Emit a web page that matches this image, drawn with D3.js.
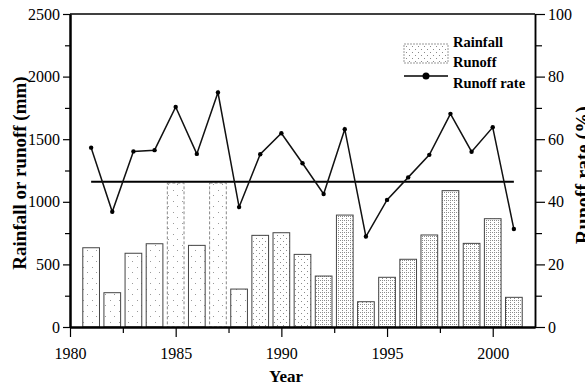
<!DOCTYPE html>
<html>
<head>
<meta charset="utf-8">
<script src="https://cdn.jsdelivr.net/npm/d3@7/dist/d3.min.js"></script>
<style>
  html, body { margin: 0; padding: 0; background: #fff; }
  svg { display: block; }
  text { font-family: "Liberation Serif", "Times New Roman", serif; fill: #000; }
</style>
</head>
<body>
<svg id="chart" width="585" height="385"></svg>
<script>
// Annual series, 1981–2001
const years = [1981, 1982, 1983, 1984, 1985, 1986, 1987, 1988, 1989, 1990, 1991,
               1992, 1993, 1994, 1995, 1996, 1997, 1998, 1999, 2000, 2001];
// Bar heights (mm)
const runoffMm = [633, 274, 589, 665, 1150, 652, 1150, 303, 732, 753, 580,
                  407, 894, 202, 397, 541, 735, 1089, 668, 865, 237];
// Runoff rate (%)
const runoffRate = [57.3, 36.8, 56.1, 56.5, 70.3, 55.3, 74.9, 38.3, 55.2, 61.9, 52.3,
                    42.5, 63.2, 28.9, 40.6, 47.8, 55.0, 68.1, 56.0, 63.8, 31.3];
// Horizontal reference level (mm) and its year span
const refLevel = 1160;
const refSpan = [1981, 2001];

const yLeftTicks = [0, 500, 1000, 1500, 2000, 2500];
const yRightTicks = [0, 20, 40, 60, 80, 100];
const xTicks = [1980, 1985, 1990, 1995, 2000];
const legendLabels = ["Rainfall", "Runoff", "Runoff rate"];

const svg = d3.select("#chart");
const L = 70, R = 535, T = 14, B = 327;

const x = d3.scaleLinear().domain([1980, 2002]).range([L, R]);
const y = d3.scaleLinear().domain([0, 2500]).range([B, T]);
const yR = d3.scaleLinear().domain([0, 100]).range([B, T]);
const fmt = d3.format("d");

// Stipple fills
const defs = svg.append("defs");
const sparse = defs.append("pattern").attr("id", "stipSparse")
  .attr("patternUnits", "userSpaceOnUse").attr("width", 9).attr("height", 11);
sparse.append("rect").attr("width", 9).attr("height", 11).attr("fill", "#fff");
[[2, 3], [6, 8]].forEach(([a, b]) =>
  sparse.append("rect").attr("x", a).attr("y", b).attr("width", 1).attr("height", 1).attr("fill", "#9a9a9a"));

const medium = defs.append("pattern").attr("id", "stipMed")
  .attr("patternUnits", "userSpaceOnUse").attr("width", 6).attr("height", 6);
medium.append("rect").attr("width", 6).attr("height", 6).attr("fill", "#fff");
[[1, 1], [4, 4]].forEach(([a, b]) =>
  medium.append("rect").attr("x", a).attr("y", b).attr("width", 1).attr("height", 1).attr("fill", "#8a8a8a"));

const dense = defs.append("pattern").attr("id", "stipDense")
  .attr("patternUnits", "userSpaceOnUse").attr("width", 4).attr("height", 4);
dense.append("rect").attr("width", 4).attr("height", 4).attr("fill", "#fff");
[[0, 0], [2, 2], [2, 0]].forEach(([a, b]) =>
  dense.append("rect").attr("x", a).attr("y", b).attr("width", 1).attr("height", 1).attr("fill", "#8c8c8c"));

function fillFor(yr) {
  if (yr >= 1992) return "url(#stipDense)";
  if (yr >= 1989) return "url(#stipMed)";
  return "url(#stipSparse)";
}

// Bars
const bw = x(1980.79) - x(1980);
svg.append("g").selectAll("rect")
  .data(years.map((yr, i) => ({ yr, v: runoffMm[i] })))
  .join("rect")
  .attr("x", d => x(d.yr) - bw / 2)
  .attr("y", d => y(d.v))
  .attr("width", bw)
  .attr("height", d => y(0) - y(d.v))
  .attr("fill", d => fillFor(d.yr))
  .attr("stroke", d => (d.yr === 1985 || d.yr === 1987) ? "#888" : "#444")
  .attr("stroke-dasharray", d => (d.yr === 1985 || d.yr === 1987) ? "3,2" : null)
  .attr("stroke-width", 1);

// Reference level line
svg.append("line")
  .attr("x1", x(refSpan[0])).attr("x2", x(refSpan[1]))
  .attr("y1", y(refLevel)).attr("y2", y(refLevel))
  .attr("stroke", "#000").attr("stroke-width", 2);

// Runoff rate line
const pts = years.map((yr, i) => [x(yr), yR(runoffRate[i])]);
svg.append("path")
  .attr("d", d3.line()(pts))
  .attr("fill", "none").attr("stroke", "#111").attr("stroke-width", 1.5);
svg.append("g").selectAll("circle").data(pts).join("circle")
  .attr("cx", d => d[0]).attr("cy", d => d[1]).attr("r", 2.2).attr("fill", "#000");

// Frame top
svg.append("line").attr("x1", L).attr("x2", R).attr("y1", T).attr("y2", T)
  .attr("stroke", "#000").attr("stroke-width", 1.5);

function styleAxis(g, w) {
  g.select(".domain").attr("stroke", "#000").attr("stroke-width", w);
  g.selectAll(".tick line").attr("stroke", "#000").attr("stroke-width", 1.2);
  g.selectAll("text").attr("font-size", 16).attr("font-family", "Liberation Serif");
}

// Left axis
const gl = svg.append("g").attr("transform", `translate(${L},0)`)
  .call(d3.axisLeft(y).tickValues(d3.range(250, 2500, 500)).tickSize(5).tickFormat("").tickSizeOuter(0));
styleAxis(gl, 2);
const gl2 = svg.append("g").attr("transform", `translate(${L},0)`)
  .call(d3.axisLeft(y).tickValues(yLeftTicks).tickSize(7).tickPadding(3).tickFormat(fmt).tickSizeOuter(0));
styleAxis(gl2, 2);

// Right axis
const gr = svg.append("g").attr("transform", `translate(${R},0)`)
  .call(d3.axisRight(yR).tickValues(d3.range(10, 100, 20)).tickSize(7).tickFormat("").tickSizeOuter(0));
styleAxis(gr, 1.5);
const gr2 = svg.append("g").attr("transform", `translate(${R},0)`)
  .call(d3.axisRight(yR).tickValues(yRightTicks).tickSize(10).tickPadding(3).tickFormat(fmt).tickSizeOuter(0));
styleAxis(gr2, 1.5);

// Bottom axis
const gb = svg.append("g").attr("transform", `translate(0,${B})`)
  .call(d3.axisBottom(x).tickValues(d3.range(1982.5, 2000, 5)).tickSize(6).tickFormat("").tickSizeOuter(0));
styleAxis(gb, 2);
const gb2 = svg.append("g").attr("transform", `translate(0,${B})`)
  .call(d3.axisBottom(x).tickValues(xTicks).tickSize(10).tickPadding(11).tickFormat(fmt).tickSizeOuter(0));
styleAxis(gb2, 2);

// Axis titles
svg.append("text").attr("x", 286).attr("y", 382).attr("text-anchor", "middle")
  .attr("font-size", 17).attr("font-weight", "bold").text("Year");
svg.append("text").attr("transform", "translate(26,173) rotate(-90)")
  .attr("text-anchor", "middle").attr("font-size", 19).attr("font-weight", "bold")
  .text("Rainfall or runoff (mm)");
svg.append("text").attr("transform", "translate(590,175) rotate(-90)")
  .attr("text-anchor", "middle").attr("font-size", 20).attr("font-weight", "bold")
  .text("Runoff rate (%)");

// Legend
const lg = svg.append("g");
lg.append("rect").attr("x", 404).attr("y", 44).attr("width", 44).attr("height", 19)
  .attr("fill", "url(#stipMed)").attr("stroke", "#999").attr("stroke-width", 1)
  .attr("stroke-dasharray", "2,1");
lg.append("line").attr("x1", 404).attr("x2", 448).attr("y1", 76).attr("y2", 76)
  .attr("stroke", "#000").attr("stroke-width", 1.4);
lg.append("circle").attr("cx", 426).attr("cy", 76).attr("r", 3.5).attr("fill", "#000");
const legendY = [47, 67, 88];
lg.selectAll("text.leg").data(legendLabels).join("text")
  .attr("class", "leg")
  .attr("x", 453).attr("y", (d, i) => legendY[i])
  .attr("font-size", 14.5).attr("font-weight", "bold")
  .text(d => d);
</script>
</body>
</html>
